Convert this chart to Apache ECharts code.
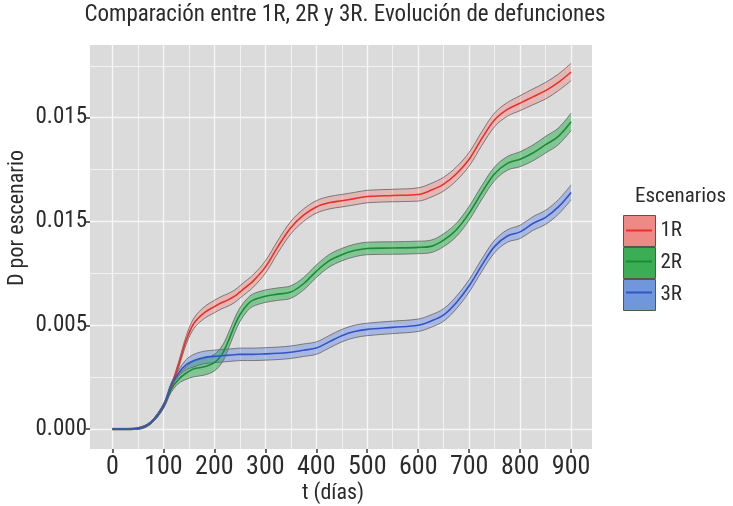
<!DOCTYPE html>
<html>
<head>
<meta charset="utf-8">
<script src="https://cdn.jsdelivr.net/npm/echarts@6/dist/echarts.min.js"></script>
<style>html,body{margin:0;padding:0;background:#fff}#c{width:733px;height:506px}</style>
</head>
<body>
<div id="c"></div>
<script>
const FONT = "'Roboto Condensed',Roboto,sans-serif";

const t = [0,25,50,75,100,115,130,145,160,180,200,215,225,240,250,265,275,300,325,350,375,400,425,450,475,500,550,600,625,650,675,700,725,750,775,800,825,850,875,900];

const mean1R = [0,0,0.00003,0.0003,0.0011,0.0020,0.0031,0.0043,0.0051,0.0056,0.0059,0.0061,0.0062,0.0064,0.0066,0.0069,0.0071,0.0078,0.0088,0.0097,0.0103,0.0107,0.0109,0.0110,0.0111,0.0112,0.01125,0.0113,0.0115,0.0118,0.0123,0.0130,0.0140,0.0149,0.0154,0.0157,0.0160,0.0163,0.0167,0.0172];
const mean2R = [0,0,0.00003,0.0003,0.0011,0.0019,0.0024,0.0027,0.0029,0.0030,0.0032,0.0036,0.0041,0.0050,0.0055,0.0060,0.0062,0.0064,0.0065,0.0066,0.0070,0.0076,0.0081,0.0084,0.0086,0.0087,0.00872,0.00875,0.0088,0.0091,0.0096,0.0104,0.0114,0.0123,0.0128,0.0130,0.0133,0.0137,0.0141,0.0148];
const mean3R = [0,0,0.00003,0.0003,0.0011,0.0021,0.0027,0.0031,0.0033,0.00345,0.0035,0.00353,0.00355,0.00358,0.0036,0.0036,0.0036,0.00362,0.00365,0.0037,0.0038,0.0039,0.0042,0.0045,0.0047,0.0048,0.0049,0.0050,0.0052,0.0055,0.0061,0.0069,0.0079,0.0088,0.0093,0.0095,0.0099,0.0102,0.0107,0.0114];

const half1R = [0.00003,0.00003,0.00004,0.00006,0.0001,0.00012,0.00015,0.0002,0.00025,0.00028,0.0003,0.0003,0.0003,0.0003,0.0003,0.0003,0.0003,0.0003,0.0003,0.0003,0.0003,0.0003,0.0003,0.0003,0.0003,0.0003,0.0003,0.00032,0.00033,0.00033,0.00033,0.00033,0.00033,0.00033,0.00033,0.00036,0.00038,0.0004,0.0004,0.00042];
const half2R = [0.00003,0.00003,0.00004,0.00006,0.0001,0.00014,0.0002,0.0003,0.00038,0.0004,0.0004,0.0004,0.00038,0.00035,0.00033,0.0003,0.0003,0.0003,0.0003,0.0003,0.0003,0.0003,0.0003,0.0003,0.0003,0.0003,0.0003,0.0003,0.0003,0.00031,0.00032,0.00033,0.00033,0.00033,0.00033,0.00036,0.00038,0.0004,0.0004,0.00042];
const half3R = [0.00003,0.00003,0.00004,0.00006,0.0001,0.00012,0.00015,0.00025,0.0003,0.0003,0.0003,0.0003,0.0003,0.0003,0.0003,0.0003,0.0003,0.0003,0.0003,0.0003,0.0003,0.0003,0.0003,0.0003,0.0003,0.0003,0.0003,0.0003,0.0003,0.0003,0.0003,0.0003,0.0003,0.0003,0.0003,0.00032,0.00033,0.00034,0.00035,0.00036];

const scenarios = ['1R','2R','3R'];
const xMajorTicks = [0,100,200,300,400,500,600,700,800,900];
const xMinorTicks = [0,50,100,150,200,250,300,350,400,450,500,550,600,650,700,750,800,850,900];
const yMajorTicks = [0,0.005,0.010,0.015];
const yTickLabels = ['0.000','0.005','0.015','0.015'];
const yMinorTicks = [0,0.0025,0.005,0.0075,0.010,0.0125,0.015,0.0175];

const lineColors = ['#ec2f27','#1c8a3a','#3354c6'];
const bandColors = ['rgba(255,40,30,0.2)','rgba(20,170,60,0.45)','rgba(60,110,235,0.33)'];
const keyColors = ['#ee8a86','#3bae55','#7096dc'];

const means = [mean1R, mean2R, mean3R];
const halves = [half1R, half2R, half3R];

const series = [];
scenarios.forEach((s, i) => {
  // value first, time second, so the stack applies to the value dimension
  const lo = t.map((x, k) => [means[i][k] - halves[i][k], x]);
  const diff = t.map((x, k) => [2 * halves[i][k], x]);
  series.push({
    name: s + ' lo', type: 'line', stack: 'band' + i, stackStrategy: 'all', encode: { x: 1, y: 0 },
    data: lo, symbol: 'none', smooth: 0.35,
    lineStyle: { color: '#6a6a6a', width: 1, opacity: 0.85 }, silent: true, z: 2
  });
  series.push({
    name: s + ' band', type: 'line', stack: 'band' + i, stackStrategy: 'all', encode: { x: 1, y: 0 },
    data: diff, symbol: 'none', smooth: 0.35,
    lineStyle: { color: '#6a6a6a', width: 1, opacity: 0.85 },
    areaStyle: { color: bandColors[i], opacity: 1 }, silent: true, z: 2
  });
});
scenarios.forEach((s, i) => {
  series.push({
    name: s, type: 'line', data: t.map((x, k) => [x, means[i][k]]), symbol: 'none', smooth: 0.35,
    lineStyle: { color: lineColors[i], width: 1.6 }, itemStyle: { color: keyColors[i] }, z: 3
  });
});

const chart = echarts.init(document.getElementById('c'), null, { renderer: 'canvas' });
chart.setOption({
  animation: false,
  backgroundColor: '#ffffff',
  title: [
    { text: 'Comparación entre 1R, 2R y 3R. Evolución de defunciones', left: 345, top: 4, textAlign: 'center', padding: 0,
      textStyle: { fontSize: 23, fontWeight: 'normal', color: '#2b2b2b', fontFamily: FONT } },
    { text: 'Escenarios', left: 635, top: 186, padding: 0,
      textStyle: { fontSize: 21, fontWeight: 'normal', color: '#2b2b2b', fontFamily: FONT } }
  ],
  grid: { left: 90, right: 141, top: 45, bottom: 57, show: true, backgroundColor: '#dbdbdb', borderWidth: 0 },
  xAxis: [
    { type: 'value', position: 'bottom', min: -44, max: 941, axisLine: { show: false, onZero: false },
      axisTick: { show: false, customValues: xMinorTicks }, axisLabel: { show: false, customValues: xMinorTicks },
      splitLine: { show: true, lineStyle: { color: '#f2f2f2', width: 1 } } },
    { type: 'value', position: 'bottom', min: -44, max: 941, axisLine: { show: false, onZero: false },
      axisTick: { show: true, length: 4, customValues: xMajorTicks, lineStyle: { color: '#333', width: 1.5 } },
      axisLabel: { show: true, customValues: xMajorTicks, margin: 5, fontSize: 26, color: '#2b2b2b', fontFamily: FONT },
      splitLine: { show: true, lineStyle: { color: '#f6f6f6', width: 1.4 } } }
  ],
  yAxis: [
    { type: 'value', position: 'left', min: -0.00096, max: 0.0185, axisLine: { show: false, onZero: false },
      axisTick: { show: false, customValues: yMinorTicks }, axisLabel: { show: false, customValues: yMinorTicks },
      splitLine: { show: true, lineStyle: { color: '#f2f2f2', width: 1 } } },
    { type: 'value', position: 'left', min: -0.00096, max: 0.0185, axisLine: { show: false, onZero: false },
      axisTick: { show: true, length: 4, customValues: yMajorTicks, lineStyle: { color: '#333', width: 1.5 } },
      axisLabel: { show: true, customValues: yMajorTicks, margin: 3, fontSize: 23, color: '#2b2b2b', fontFamily: FONT,
        formatter: v => yTickLabels[Math.round(v / 0.005)] },
      splitLine: { show: true, lineStyle: { color: '#f6f6f6', width: 1.4 } } }
  ],
  legend: [
    { left: 623, top: 215, orient: 'vertical', padding: 0, itemWidth: 32, itemHeight: 31, itemGap: 0, icon: 'rect', selectedMode: false,
      textStyle: { fontSize: 21, lineHeight: 31, color: '#2b2b2b', fontFamily: FONT },
      data: scenarios.map((s, i) => ({ name: s, itemStyle: { color: keyColors[i], borderColor: '#555', borderWidth: 1 } })) },
    { left: 626, top: 215, orient: 'vertical', padding: 0, itemWidth: 26, itemHeight: 2, itemGap: 0, icon: 'rect', selectedMode: false,
      textStyle: { fontSize: 21, lineHeight: 31, color: 'rgba(0,0,0,0)', fontFamily: FONT },
      data: scenarios.map((s, i) => ({ name: s, itemStyle: { color: lineColors[i], borderWidth: 0 } })) }
  ],
  graphic: [
    { type: 'text', x: 17, y: 218, rotation: Math.PI / 2,
      style: { text: 'D por escenario', fontSize: 22, fontFamily: FONT, fill: '#2b2b2b', align: 'center', verticalAlign: 'middle' } },
    { type: 'text', x: 333, y: 493,
      style: { text: 't (días)', fontSize: 22, fontFamily: FONT, fill: '#2b2b2b', align: 'center', verticalAlign: 'middle' } }
  ],
  series: series
});
</script>
</body>
</html>
